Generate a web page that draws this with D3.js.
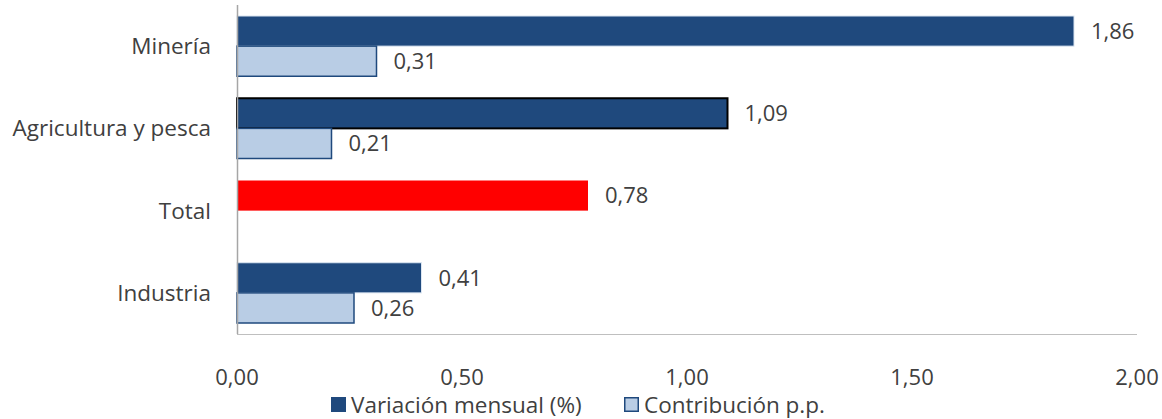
<!DOCTYPE html>
<html>
<head>
<meta charset="utf-8">
<script src="https://cdn.jsdelivr.net/npm/d3@7"></script>
<style>
  body { margin: 0; background: #fff; }
  text { font-family: "Open Sans", "Noto Sans", sans-serif; fill: #404040; }
</style>
</head>
<body>
<svg width="1162" height="419"></svg>
<script>
var categories = ["Minería", "Agricultura y pesca", "Total", "Industria"];
var variacion = [1.86, 1.09, 0.78, 0.41];
var contribucion = [0.31, 0.21, null, 0.26];
var ticks = [0, 0.5, 1, 1.5, 2];
var seriesNames = ["Variación mensual (%)", "Contribución p.p."];

var svg = d3.select("svg"),
    margin = {top: 5, right: 25, bottom: 85, left: 237},
    width = +svg.attr("width") - margin.left - margin.right,
    height = +svg.attr("height") - margin.top - margin.bottom;

var g = svg.append("g")
    .attr("transform", "translate(" + margin.left + "," + margin.top + ")");

var x = d3.scaleLinear().domain([0, 2]).range([0, width]);
var y = d3.scaleBand().domain(categories).range([0, height]).padding(0);
var sub = d3.scaleBand().domain([0, 1]).range([11, y.bandwidth() - 11]).padding(0);

var fmt = function(v) { return d3.format(".2f")(v).replace(".", ","); };

var data = categories.map(function(c, i) {
  return {name: c, vals: [variacion[i], contribucion[i]]};
});

// bars
var groups = g.selectAll(".cat")
    .data(data)
  .enter().append("g")
    .attr("transform", function(d) { return "translate(0," + y(d.name) + ")"; });

groups.each(function(d) {
  var grp = d3.select(this);
  d.vals.forEach(function(v, k) {
    if (v == null) return;
    var fill, stroke, sw;
    if (d.name === "Total") { fill = "#ff0000"; stroke = "none"; sw = 0; }
    else if (k === 0) {
      fill = "#1f497d";
      stroke = d.name === "Agricultura y pesca" ? "#000" : "#dce6f2";
      sw = d.name === "Agricultura y pesca" ? 2 : 1;
    } else { fill = "#b9cde5"; stroke = "#1f497d"; sw = 1.5; }
    grp.append("rect")
        .attr("x", x(0))
        .attr("y", sub(k))
        .attr("width", x(v) - x(0))
        .attr("height", sub.bandwidth())
        .attr("fill", fill)
        .attr("stroke", stroke)
        .attr("stroke-width", sw);
    grp.append("text")
        .attr("x", x(v) + 17)
        .attr("y", sub(k) + sub.bandwidth() / 2)
        .attr("dy", "0.35em")
        .attr("font-size", "22px")
        .text(fmt(v));
  });
});

// axes lines
g.append("line")
    .attr("x1", 0.5).attr("x2", 0.5)
    .attr("y1", 0).attr("y2", height)
    .attr("stroke", "#a6a6a6").attr("stroke-width", 1.5);
g.append("line")
    .attr("x1", 0).attr("x2", width)
    .attr("y1", height + 0.5).attr("y2", height + 0.5)
    .attr("stroke", "#bfbfbf").attr("stroke-width", 1);

// category labels
g.selectAll(".catlabel")
    .data(categories)
  .enter().append("text")
    .attr("x", -26)
    .attr("y", function(d) { return y(d) + y.bandwidth() / 2; })
    .attr("dy", "0.35em")
    .attr("text-anchor", "end")
    .attr("font-size", "22.5px")
    .text(function(d) { return d; });

// x tick labels
g.selectAll(".tick")
    .data(ticks)
  .enter().append("text")
    .attr("x", function(d) { return x(d); })
    .attr("y", height + 43)
    .attr("dy", "0.35em")
    .attr("text-anchor", "middle")
    .attr("font-size", "22px")
    .text(fmt);

// legend
var legend = svg.append("g").attr("transform", "translate(331,397)");
var lx = [0, 293];
seriesNames.forEach(function(s, i) {
  legend.append("rect")
      .attr("x", lx[i] + (i ? 0.75 : 0))
      .attr("y", i ? 0.75 : 0)
      .attr("width", i ? 13.5 : 15)
      .attr("height", i ? 13.5 : 15)
      .attr("fill", i ? "#b9cde5" : "#1f497d")
      .attr("stroke", i ? "#1f497d" : "none")
      .attr("stroke-width", 1.5);
  legend.append("text")
      .attr("x", lx[i] + 20)
      .attr("y", 8)
      .attr("dy", "0.35em")
      .attr("font-size", "22.5px")
      .text(s);
});
</script>
</body>
</html>
